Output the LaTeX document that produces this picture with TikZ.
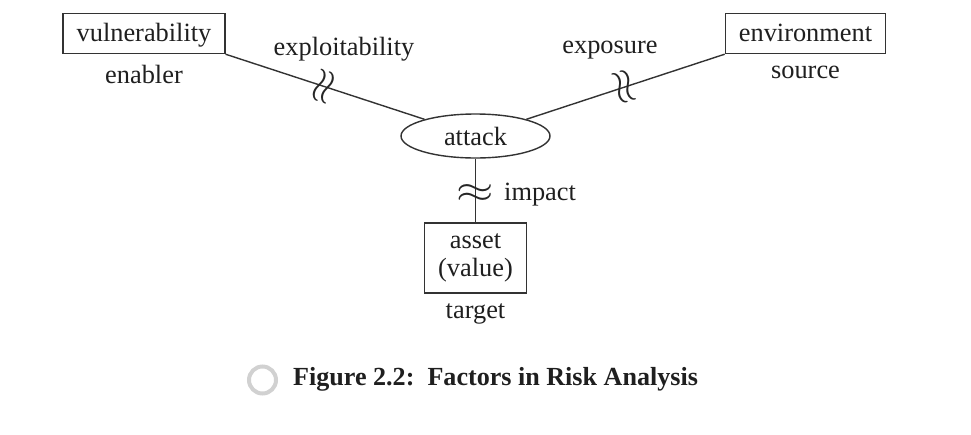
\documentclass[tikz,border=0pt]{standalone}
\usepackage{fontspec}
\setmainfont{Liberation Serif}
\usetikzlibrary{shapes.geometric,positioning}
\newcommand\figfont{\fontsize{15}{16}\selectfont}
\begin{document}
\begin{tikzpicture}[
        every node/.style={font=\figfont, text=black!88},
        box/.style={draw=black!80, line width=0.8pt, inner xsep=0.27cm},
        namebox/.style={box, inner ysep=0pt, minimum height=0.8cm, text height=13pt, text depth=3.4pt},
        brk/.style={sloped, rotate=90, inner sep=0pt, text=black!85, font=\fontsize{24}{24}\selectfont},
        link/.style={draw=black!80, line width=0.8pt}]
    \useasboundingbox (0,0) rectangle (19.42,-8.68);
    \node[namebox] (vuln) at (2.88,-0.67) {vulnerability};
    \node[namebox] (env) at (16.11,-0.67) {environment};
    \node[draw=black!80, line width=0.8pt, ellipse, minimum width=2.98cm, minimum height=0.88cm, inner sep=0pt] (attack) at (9.51,-2.72) {attack};
    \node[box, align=center, minimum height=1.4cm] (asset) at (9.51,-5.16) {asset\\(value)};
    \node[below=3pt of vuln] (enabler) {enabler};
    \node[below=3pt of env] (source) {source};
    \node[below=2pt of asset] (target) {target};
    \draw[link] (vuln.south east) -- node[brk] (brkvuln) {\scalebox{1.1}[0.85]{$\approx$}} (attack);
    \draw[link] (env.south west) -- node[brk] (brkenv) {\scalebox{1.1}[0.85]{$\approx$}} (attack);
    \draw[link] (attack.south) -- node[brk, pos=0.54] (brkasset) {\scalebox{1.1}[0.85]{$\approx$}} (asset.north);
    \node[anchor=base] (exploit) at (6.88,-1.10) {exploitability};
    \node[anchor=base] (expose) at (12.2,-1.06) {exposure};
    \node[anchor=base west] (impact) at (9.96,-4.0) {impact};
    \node[circle, draw=black!18, line width=0.08cm, minimum size=0.54cm, inner sep=0pt] (bullet) at (5.25,-7.6) {};
    \node[anchor=base west, font=\fontsize{14.85}{16}\selectfont\bfseries] (caption) at (5.74,-7.70) {Figure 2.2:\ \ Factors in Risk Analysis};
\end{tikzpicture}
\end{document}
